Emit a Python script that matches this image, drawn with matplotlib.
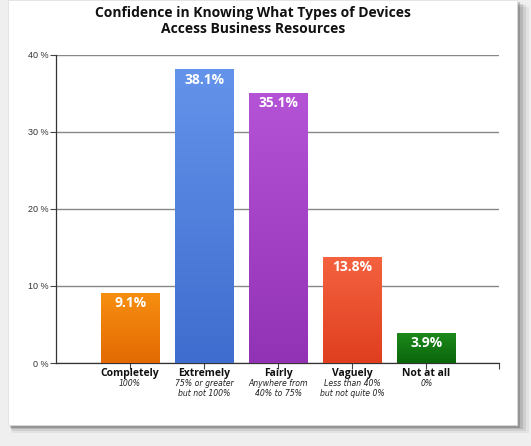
import numpy as np
import matplotlib.pyplot as plt
from matplotlib.patches import Rectangle
from matplotlib.colors import LinearSegmentedColormap

categories = ["Completely", "Extremely", "Fairly", "Vaguely", "Not at all"]
subtitles = ["100%", "75% or greater\nbut not 100%", "Anywhere from\n40% to 75%",
             "Less than 40%\nbut not quite 0%", "0%"]
values = [9.1, 38.1, 35.1, 13.8, 3.9]
top_colors = ["#f78f10", "#6393ea", "#b553d6", "#f4623f", "#1c8a1c"]
bottom_colors = ["#e36a02", "#3e6dcf", "#9232b4", "#df3f1f", "#0b660b"]
yticks = [0, 10, 20, 30, 40]

plt.rcParams['font.family'] = ['Open Sans', 'DejaVu Sans']

fig = plt.figure(figsize=(5.31, 4.46), dpi=100)
fig.patch.set_facecolor("#efefef")

# card with soft shadow
for i, a in enumerate([0.05, 0.08, 0.12, 0.18]):
    d = (4 - i) * 0.004
    fig.patches.append(Rectangle((0.018 + d * 0.3, 0.045 - d), 0.957 + d, 0.955,
                                 transform=fig.transFigure, color="black",
                                 alpha=a, zorder=0, lw=0))
fig.patches.append(Rectangle((0.015, 0.048), 0.958, 0.952, transform=fig.transFigure,
                             facecolor="white", edgecolor="#dddddd", lw=0.5, zorder=1))

fig.text(0.477, 0.986, "Confidence in Knowing What Types of Devices\nAccess Business Resources",
         ha="center", va="top", fontsize=10, fontweight="bold", linespacing=1.2,
         color="#111111")

ax = fig.add_axes([0.1055, 0.186, 0.834, 0.691])
ax.set_facecolor("none")
ax.set_zorder(2)

x = np.arange(len(categories))
width = 0.79
bars = ax.bar(x, values, width=width, color="none", zorder=3)
for b, c1, c2, v in zip(bars, top_colors, bottom_colors, values):
    cmap = LinearSegmentedColormap.from_list("g", [c2, c1])
    x0, w = b.get_x(), b.get_width()
    im = ax.imshow(np.linspace(0, 1, 100).reshape(-1, 1), cmap=cmap, origin="lower",
                   extent=[x0, x0 + w, 0, v], aspect="auto", zorder=3)
    im.set_clip_path(b)
    ax.text(b.get_x() + w / 2, v - 0.45, f"{v}%", ha="center", va="top",
            color="white", fontsize=10, fontweight="bold", zorder=4)

ax.set_xlim(-1, 4.98)
ax.set_ylim(0, 40)
ax.set_yticks(yticks)
ax.set_yticklabels([f"{t} %" for t in yticks], family="Liberation Sans",
                   fontsize=6.5, color="#333333")
ax.yaxis.grid(True, color="#888888", lw=1.0, zorder=1)
ax.tick_params(axis="y", length=4, width=0.8, color="#444444", pad=1)
ax.set_xticks(list(x) + [4.98])
ax.set_xticklabels([""] * 6)
ax.tick_params(axis="x", length=4, width=0.8, color="#444444")
for s in ["top", "right"]:
    ax.spines[s].set_visible(False)
ax.spines["left"].set_color("#333333")
ax.spines["bottom"].set_color("#333333")
ax.spines["left"].set_linewidth(0.9)
ax.spines["bottom"].set_linewidth(0.9)

for xi, cat, sub in zip(x, categories, subtitles):
    ax.text(xi, -0.6, cat, ha="center", va="top", fontsize=7.5, fontweight="bold",
            color="#111111")
    ax.text(xi, -2.1, sub, ha="center", va="top", fontsize=6.2, style="italic",
            family="DejaVu Sans", fontstretch="condensed", color="#222222",
            linespacing=1.15)

fig.savefig("out.png", dpi=100, facecolor=fig.get_facecolor())
